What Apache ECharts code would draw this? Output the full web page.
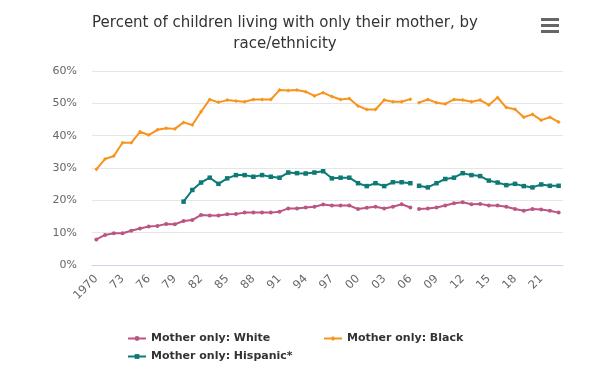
<!DOCTYPE html>
<html><head><meta charset="utf-8">
<script src="https://cdn.jsdelivr.net/npm/echarts@6/dist/echarts.min.js"></script>
<style>html,body{margin:0;padding:0;background:#fff}#c{width:600px;height:370px}</style>
</head><body><div id="c"></div>
<script>
const years = ['1970','1971','1972','1973','1974','1975','1976','1977','1978','1979',
  '1980','1981','1982','1983','1984','1985','1986','1987','1988','1989',
  '1990','1991','1992','1993','1994','1995','1996','1997','1998','1999',
  '2000','2001','2002','2003','2004','2005','2006','2007','2008','2009',
  '2010','2011','2012','2013','2014','2015','2016','2017','2018','2019',
  '2020','2021','2022','2023'];

// values 1970-2006 (before the series break)
const whiteBefore = [7.9,9.3,9.8,9.8,10.6,11.3,11.9,12.1,12.7,12.6,
  13.6,13.9,15.5,15.3,15.3,15.7,15.8,16.2,16.2,16.2,
  16.2,16.5,17.5,17.5,17.8,18.0,18.7,18.4,18.4,18.4,
  17.3,17.7,18.0,17.5,18.0,18.8,17.8];
const blackBefore = [29.6,32.8,33.7,37.8,37.8,41.2,40.2,41.8,42.3,42.1,
  44.1,43.3,47.4,51.2,50.3,51.0,50.7,50.5,51.2,51.2,
  51.2,54.1,54.0,54.1,53.6,52.3,53.3,52.1,51.2,51.5,
  49.2,48.1,48.1,51.0,50.5,50.5,51.3];
const hispanicBefore = [null,null,null,null,null,null,null,null,null,null,
  19.6,23.2,25.5,27.0,25.1,26.8,27.8,27.8,27.3,27.8,
  27.3,27.0,28.6,28.4,28.3,28.6,29.0,26.8,27.0,27.0,
  25.3,24.4,25.3,24.4,25.6,25.6,25.3];
// values 2007-2023 (after the series break)
const whiteAfter = [17.3,17.5,17.8,18.4,19.1,19.4,18.8,18.9,18.4,18.4,18.0,17.3,16.8,17.3,17.2,16.8,16.2];
const blackAfter = [50.2,51.2,50.2,49.8,51.2,51.0,50.5,51.0,49.5,51.8,48.7,48.2,45.7,46.6,44.8,45.7,44.2];
const hispanicAfter = [24.5,24.0,25.3,26.6,27.0,28.4,27.8,27.5,26.1,25.5,24.7,25.1,24.4,24.0,24.9,24.5,24.5];

const names = ['Mother only: White','Mother only: Black','Mother only: Hispanic*'];
const colors = ['#bb5581','#f7941d','#0e7a76'];
const symbols = ['circle','diamond','rect'];
const sizes = [4, 4, 4.5];

function before(arr){ return arr.map(v => v == null ? '-' : v).concat(whiteAfter.map(() => '-')); }
function after(arr){ return whiteBefore.map(() => '-').concat(arr); }

const groups = [[whiteBefore, whiteAfter],[blackBefore, blackAfter],[hispanicBefore, hispanicAfter]];
const series = [];
groups.forEach((g, i) => {
  [before(g[0]), after(g[1])].forEach(d => {
    series.push({
      name: names[i], type: 'line', data: d,
      symbol: symbols[i], symbolSize: sizes[i], showSymbol: true,
      lineStyle: { width: 2, color: colors[i] },
      itemStyle: { color: colors[i] },
      connectNulls: false, animation: false
    });
  });
});

const legendCommon = {
  itemWidth: 18, itemHeight: 6, itemGap: 7,
  textStyle: { fontFamily: 'DejaVu Sans', fontSize: 11, fontWeight: 'bold', color: '#333' },
  top: 328
};

const chart = echarts.init(document.getElementById('c'), null, { renderer: 'canvas' });
chart.setOption({
  animation: false,
  title: {
    text: 'Percent of children living with only their mother, by\nrace/ethnicity',
    left: 280, top: 8, textAlign: 'center',
    textStyle: { fontFamily: 'DejaVu Sans', fontSize: 15, fontWeight: 'normal', color: '#333', lineHeight: 21 }
  },
  graphic: [
    { type: 'rect', shape: { x: 541, y: 18, width: 18, height: 3 }, style: { fill: '#666' } },
    { type: 'rect', shape: { x: 541, y: 24, width: 18, height: 3 }, style: { fill: '#666' } },
    { type: 'rect', shape: { x: 541, y: 30, width: 18, height: 3 }, style: { fill: '#666' } }
  ],
  legend: [
    Object.assign({}, legendCommon, { data: [names[0]], left: 122 }),
    Object.assign({}, legendCommon, { data: [names[1]], left: 318 }),
    Object.assign({}, legendCommon, { data: [names[2]], left: 122, top: 346 })
  ],
  grid: { left: 92, right: 37, top: 71, bottom: 105, containLabel: false },
  xAxis: {
    type: 'category', data: years, boundaryGap: true,
    axisLine: { lineStyle: { color: '#ccd6eb' } },
    axisTick: { show: false },
    axisLabel: {
      interval: 2, rotate: 45, margin: 12,
      color: '#666', fontFamily: 'DejaVu Sans', fontSize: 11.5,
      formatter: v => v === '1970' ? v : v.slice(2)
    }
  },
  yAxis: {
    type: 'value', min: 0, max: 60, interval: 10,
    axisLine: { show: false }, axisTick: { show: false },
    splitLine: { lineStyle: { color: '#e6e6e6' } },
    axisLabel: { formatter: '{value}%', color: '#666', fontFamily: 'DejaVu Sans', fontSize: 11, margin: 15 }
  },
  series: series
});
</script></body></html>
